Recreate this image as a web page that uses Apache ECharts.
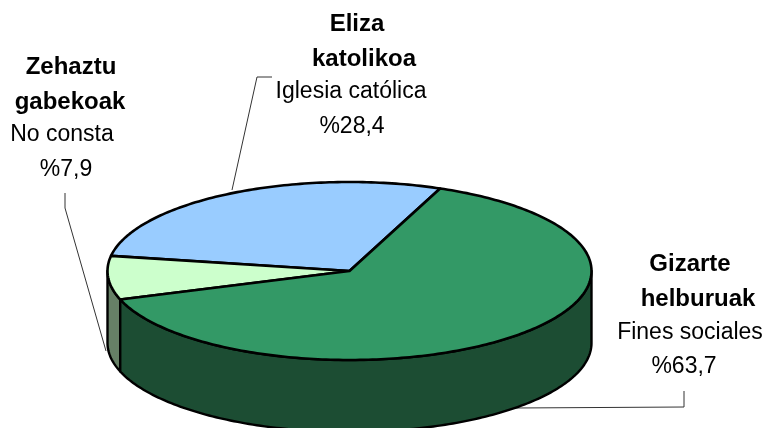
<!DOCTYPE html>
<html>
<head>
<meta charset="utf-8">
<script src="https://cdn.jsdelivr.net/npm/echarts@6/dist/echarts.min.js"></script>
<style>
html, body { margin: 0; padding: 0; background: #fff; }
#chart { width: 765px; height: 428px; }
</style>
</head>
<body>
<div id="chart"></div>
<script>
// slices, counter-clockwise from the blue/green border
var names_eu = ['Eliza katolikoa', 'Zehaztu gabekoak', 'Gizarte helburuak'];
var names_es = ['Iglesia católica', 'No consta', 'Fines sociales'];
var percents = [28.4, 7.9, 63.7];
var percent_labels = ['%28,4', '%7,9', '%63,7'];

var top_colors = ['#99ccff', '#ccffcc', '#339966'];
var side_colors = ['#4d6680', '#668066', '#1c4d33'];

// ellipse of the pie top
var cx = 349.5, cy = 271, rx = 242, ry = 89, depth = 72;
var start_angle = 68;

function pt(deg, dy)
{
    var a = deg * Math.PI / 180;
    return [cx + rx * Math.cos(a), cy - ry * Math.sin(a) + dy];
}

function arc(from, to, dy)
{
    var pts = [];
    var n = Math.max(2, Math.ceil(Math.abs(to - from)));
    for (var i = 0; i <= n; i++)
    {
        pts.push(pt(from + (to - from) * i / n, dy));
    }
    return pts;
}

function render_slice(params, api)
{
    var total = percents.reduce(function (s, v) { return s + v; }, 0);
    var before = 0;
    for (var i = 0; i < params.dataIndex; i++) before += percents[i];
    var a0 = start_angle + before / total * 360;
    var a1 = a0 + api.value(0) / total * 360;
    var children = [];

    // only the front half of the rim is visible
    var s0 = Math.max(a0, 180), s1 = Math.min(a1, 360);
    if (s1 > s0)
    {
        children.push({
            type: 'polygon',
            shape: {points: arc(s0, s1, 0).concat(arc(s1, s0, depth))},
            style: {fill: side_colors[params.dataIndex], stroke: '#000', lineWidth: 2.4, lineJoin: 'round'}
        });
    }
    children.push({
        type: 'polygon',
        shape: {points: [[cx, cy]].concat(arc(a0, a1, 0))},
        style: {fill: top_colors[params.dataIndex], stroke: '#000', lineWidth: 2.6, lineJoin: 'round'}
    });
    return {type: 'group', children: children};
}

function text_el(str, x, y, bold)
{
    return {
        type: 'text',
        x: x,
        y: y,
        style: {
            text: str,
            fill: '#000',
            align: 'center',
            verticalAlign: 'middle',
            font: (bold ? 'bold 24px' : '23px') + ' "Liberation Sans", Arial, sans-serif'
        }
    };
}

function leader(points)
{
    return {
        type: 'polyline',
        shape: {points: points},
        style: {stroke: '#333', lineWidth: 1, fill: null}
    };
}

function split_name(name)
{
    return name.split(' ');
}

var church = split_name(names_eu[0]);
var unknown = split_name(names_eu[1]);
var social = split_name(names_eu[2]);

var option = {
    animation: false,
    tooltip: {show: false},
    series: [
        {
            type: 'custom',
            coordinateSystem: 'none',
            renderItem: render_slice,
            data: percents.map(function (v) { return [v]; })
        }
    ],
    graphic: {
        elements: [
            leader([[232, 190], [257, 77], [272, 77]]),
            leader([[65, 193], [65, 208], [106, 351]]),
            leader([[515, 408], [684, 407], [684, 391]]),

            text_el(church[0], 357, 24, true),
            text_el(church[1], 364, 59, true),
            text_el(names_es[0], 351, 92, false),
            text_el(percent_labels[0], 352, 127, false),

            text_el(unknown[0], 71, 67, true),
            text_el(unknown[1], 70, 102, true),
            text_el(names_es[1], 62, 135, false),
            text_el(percent_labels[1], 66, 170, false),

            text_el(social[0], 690, 264, true),
            text_el(social[1], 698, 299, true),
            text_el(names_es[2], 690, 333, false),
            text_el(percent_labels[2], 684, 367, false)
        ]
    }
};

var myChart = echarts.init(document.getElementById('chart'));
myChart.setOption(option);
</script>
</body>
</html>
